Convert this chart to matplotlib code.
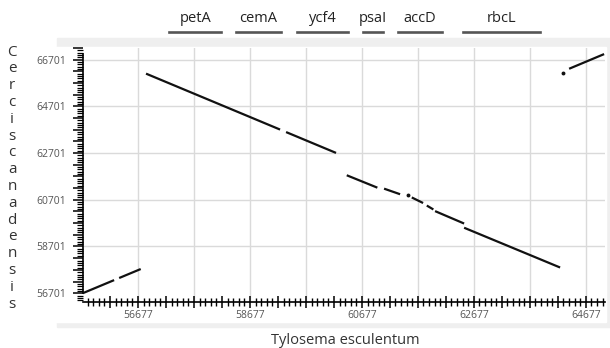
import numpy as np
import matplotlib
matplotlib.use("Agg")
import matplotlib.pyplot as plt
from matplotlib.ticker import MultipleLocator, FuncFormatter
from matplotlib.patches import Rectangle
from matplotlib import transforms

plt.rcParams['font.family'] = ['Open Sans', 'DejaVu Sans']

# dot plot segments (Tylosema x, Cercis y)
seg_x0 = [55690, 56340, 56820, 59322, 60406, 61073, 61568, 61836, 61984, 62503, 64379]
seg_x1 = [56250, 56725, 59215, 60215, 60953, 61359, 61770, 61954, 62503, 64218, 65004]
seg_y0 = [56701, 57351, 66103, 63601, 61751, 61178, 60801, 60454, 60216, 59504, 66312]
seg_y1 = [57261, 57736, 63708, 62708, 61220, 60939, 60563, 60287, 59684, 57801, 66940]

# isolated dots
dot_x = [61507, 64277]
dot_y = [60898, 66144]

# genes along the x axis
genes = ["petA", "cemA", "ycf4", "psaI", "accD", "rbcL"]
gene_start = [57236, 58428, 59524, 60703, 61328, 62490]
gene_end = [58164, 59232, 60435, 61050, 62104, 63861]

x_tick_labels = [56677, 58677, 60677, 62677, 64677]
y_tick_labels = [56701, 58701, 60701, 62701, 64701, 66701]

fig = plt.figure(figsize=(6.1, 3.48), dpi=100)

# gray frame behind the plot
H = 348.0
W = 610.0
fig.patches.append(Rectangle((57 / W, 1 - 327 / H), 1 - 57 / W, (327 - 38) / H,
                             transform=fig.transFigure, color="#efefef", zorder=-10))
fig.patches.append(Rectangle((0, 1 - 322 / H), 606 / W, (322 - 47) / H,
                             transform=fig.transFigure, color="white", zorder=-9))

ax = fig.add_axes([82.5 / W, 1 - 302 / H, (605 - 82.5) / W, (302 - 48) / H])
ax.patch.set_alpha(0)
ax.set_xlim(55685, 65020)
ax.set_ylim(56324, 66952)

# grid
for gx in np.arange(56677, 65000, 1000):
    ax.axvline(gx, color="#dadada", lw=1, zorder=0)
for gy in np.arange(58701, 66800, 2000):
    ax.axhline(gy, color="#dadada", lw=1, zorder=0)

for x0, x1, y0, y1 in zip(seg_x0, seg_x1, seg_y0, seg_y1):
    ax.plot([x0, x1], [y0, y1], color="#111111", lw=1.6, solid_capstyle="butt", zorder=3)
ax.plot(dot_x, dot_y, "o", color="#111111", ms=1.8, zorder=3)

# spines
for s in ["top", "right"]:
    ax.spines[s].set_visible(False)
ax.spines["left"].set_bounds(56701, 66952)
ax.spines["left"].set_linewidth(1.2)
ax.spines["bottom"].set_linewidth(1.2)

# ticks
ax.xaxis.set_major_locator(MultipleLocator(500, offset=177))
ax.xaxis.set_minor_locator(MultipleLocator(100, offset=77))
ax.yaxis.set_major_locator(MultipleLocator(500, offset=201))
ax.yaxis.set_minor_locator(MultipleLocator(100, offset=1))
ax.xaxis.set_major_formatter(FuncFormatter(
    lambda v, p: f"{int(round(v))}" if int(round(v)) in x_tick_labels else ""))
ax.yaxis.set_major_formatter(FuncFormatter(
    lambda v, p: f"{int(round(v))}" if int(round(v)) in y_tick_labels else ""))
ax.yaxis.set_minor_formatter(FuncFormatter(lambda v, p: ""))

ax.tick_params(axis="x", which="major", direction="inout", length=9, width=1.1, pad=1,
               labelsize=7.5, labelcolor="#555555")
ax.tick_params(axis="x", which="minor", direction="inout", length=6, width=1)
ax.tick_params(axis="y", which="major", direction="out", length=7.5, width=1.1, pad=4.5,
               labelsize=7.5, labelcolor="#555555")
ax.tick_params(axis="y", which="minor", direction="out", length=4.5, width=0.9)

# y ticks below the spine start should not show
ax.set_yticks([t for t in ax.get_yticks() if t >= 56701])

# gene labels above the plot
blend = transforms.blended_transform_factory(ax.transData, fig.transFigure)
for name, gs, ge in zip(genes, gene_start, gene_end):
    ax.plot([gs, ge], [1 - 31.5 / H, 1 - 31.5 / H], transform=blend, color="#555555",
            lw=1.9, clip_on=False)
    ax.text((gs + ge) / 2, 1 - 22 / H, name, transform=blend, ha="center", va="baseline",
            fontsize=10.5, color="#222222")

# axis titles
fig.text(345 / W, 1 - 340 / H, "Tylosema esculentum", ha="center", va="center",
         fontsize=10.5, color="#333333")
letters = "Cercis canadensis".replace(" ", "")
for i, ch in enumerate(letters):
    ypx = 52 + i * (304 - 52) / (len(letters) - 1)
    fig.text(12 / W, 1 - ypx / H, ch, ha="center", va="center", fontsize=11, color="#333333")

fig.savefig("out.png", dpi=100)
